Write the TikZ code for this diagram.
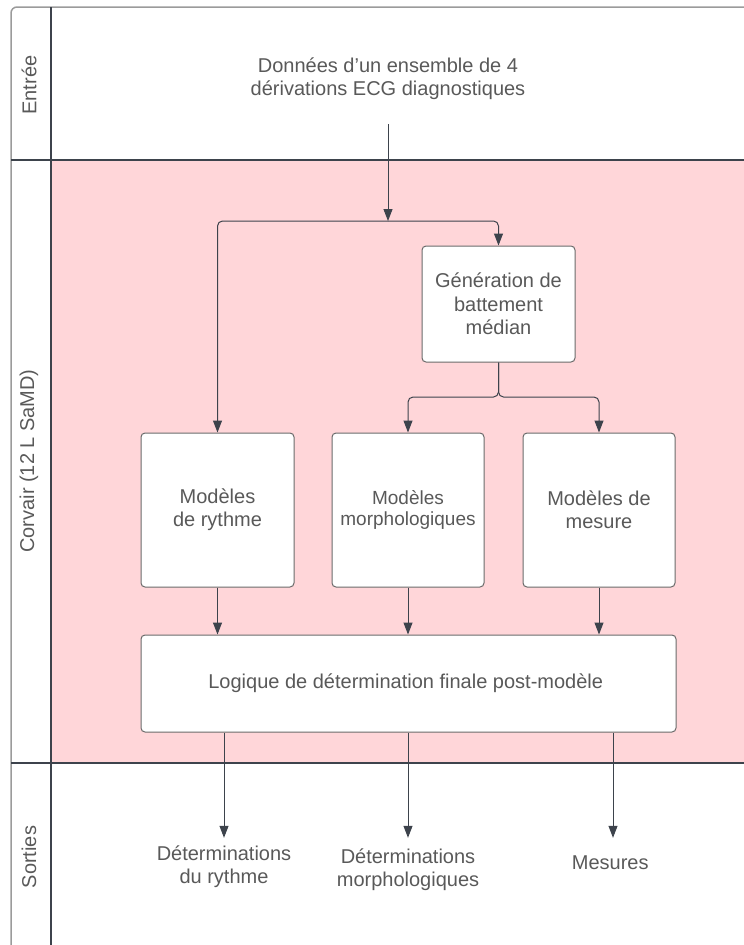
\documentclass[tikz,border=0pt]{standalone}
\usepackage{fontspec}
\setmainfont{Liberation Sans}
\usetikzlibrary{arrows.meta}
\definecolor{lanepink}{HTML}{FFD6D9}
\definecolor{linegray}{HTML}{3D434C}
\definecolor{framegray}{HTML}{9B9B9B}
\definecolor{boxgray}{HTML}{6B6B6B}
\definecolor{textgray}{HTML}{595959}
\begin{document}
\begin{tikzpicture}[x=1pt,y=-1pt,
		every node/.append style={text=textgray,align=center,font=\fontsize{20}{23}\selectfont},
		box/.style={draw=boxgray,fill=white,rounded corners=4pt,line width=1pt,inner sep=0pt},
		arr/.style={draw=linegray,line width=1pt,-{Triangle[width=9pt,length=12pt]}},
		lane/.style={rotate=90}
	]
	\useasboundingbox (0,0) rectangle (744,945);
	\clip (0,0) rectangle (744,945);
	% couloirs
	\fill[lanepink] (51,160) rectangle (744,763);
	\draw[framegray,line width=1.5pt,rounded corners=6pt] (11,960) -- (11,7) -- (760,7);
	\draw[linegray,line width=1.2pt] (51,7) -- (51,960);
	\draw[linegray,line width=1.2pt] (11,160) -- (760,160);
	\draw[linegray,line width=1.2pt] (11,763) -- (760,763);
	\node[lane] (T1) at (29,85) {Entrée};
	\node[lane] (T2) at (29,461) {Corvair (12 L SaMD)};
	\node[lane] (T3) at (29,857) {Sorties};
	% blocs
	\node[minimum height=90pt] (E) at (388,79) {
		Données d’un ensemble de 4\\dérivations ECG diagnostiques
	};
	\node[box,minimum width=153pt,minimum height=116pt,font=\fontsize{20}{23.5}\selectfont] (G) at (498.5,304) {
		Génération de\\battement\\médian
	};
	\node[box,minimum width=153pt,minimum height=154pt] (R) at (217.5,510) {
		Modèles\\de rythme
	};
	\node[box,minimum width=152pt,minimum height=154pt,font=\fontsize{19}{21}\selectfont] (M) at (408,510) {
		Modèles\\morphologiques
	};
	\node[box,minimum width=152pt,minimum height=154pt] (S) at (599,510) {
		Modèles de\\mesure
	};
	\node[box,minimum width=535pt,minimum height=97pt] (L) at (408.5,683.5) {
		Logique de détermination finale post-modèle
	};
	\node[minimum height=58pt] (OR) at (224,867) {
		Déterminations\\du rythme
	};
	\node[minimum height=64pt] (OM) at (408,870) {
		Déterminations\\morphologiques
	};
	\node[minimum height=50pt] (OS) at (613,863) {
		Mesures
	};
	% liaisons
	\coordinate (J) at (388,221);
	\coordinate (K) at (498.5,397);
	\draw[arr] (E.south) -- (J);
	\draw[arr,rounded corners=5pt] (J) -| (R.north);
	\draw[arr,rounded corners=5pt] (J) -| (G.north);
	\draw[arr,rounded corners=5pt] (G.south) -- (K) -| (M.north);
	\draw[arr,rounded corners=5pt] (G.south) -- (K) -| (S.north);
	\draw[arr] (R.south) -- (R.south |- L.north);
	\draw[arr] (M.south) -- (M.south |- L.north);
	\draw[arr] (S.south) -- (S.south |- L.north);
	\draw[arr] (L.south -| OR.north) -- (OR.north);
	\draw[arr] (L.south -| OM.north) -- (OM.north);
	\draw[arr] (L.south -| OS.north) -- (OS.north);
\end{tikzpicture}
\end{document}
